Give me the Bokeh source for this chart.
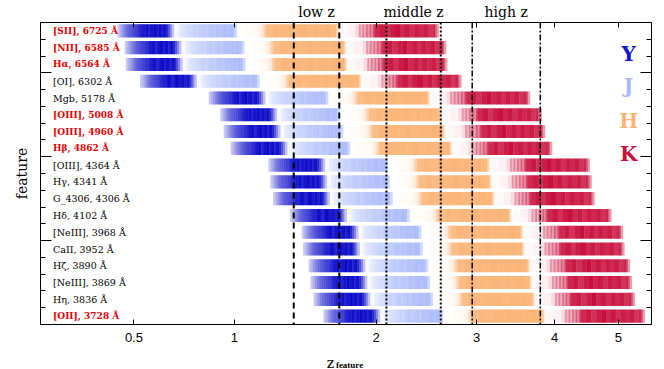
import math
from bokeh.plotting import figure
from bokeh.layouts import column
from bokeh.models import (Range1d, FixedTicker, LinearAxis, LogAxis, Span, Label,
                          CustomJSTickFormatter, ColumnDataSource)
from bokeh.embed import file_html
from bokeh.resources import INLINE
from bokeh.core.properties import value

# ---------------- data ----------------
feature_names = ["[SII]", "[NII]", "Hα", "[OI]", "Mgb", "[OIII]", "[OIII]", "Hβ",
                 "[OIII]", "Hγ", "G_4306", "Hδ", "[NeIII]", "CaII", "Hζ", "[NeIII]",
                 "Hη", "[OII]"]
feature_wave = [6725, 6585, 6564, 6302, 5178, 5008, 4960, 4862,
                4364, 4341, 4306, 4102, 3968, 3952, 3890, 3869, 3836, 3728]
feature_emission = [True, True, True, False, False, True, True, True,
                    False, False, False, False, False, False, False, False,
                    False, True]

filter_names = ["Y", "J", "H", "K"]
filter_rgb = [(10, 10, 200), (150, 170, 248), (250, 170, 100), (200, 16, 60)]
legend_colors = ["#1414c8", "#a8b8f8", "#f8b478", "#c8143c"]

# filter transmission profiles (micron edges, relative strength per segment)
Y_edges = [0.962, 0.968, 0.974, 0.980, 0.986, 0.992, 0.998, 1.004, 1.010, 1.018,
           1.026, 1.034, 1.042, 1.050, 1.058, 1.066, 1.074, 1.082, 1.090, 1.098,
           1.106, 1.112, 1.118, 1.124, 1.132]
Y_alpha = [0.22, 0.32, 0.42, 0.52, 0.6, 0.66, 0.7, 0.74, 0.78, 0.84, 0.9, 0.94,
           0.98, 0.9, 0.96, 1.0, 0.94, 0.98, 0.92, 0.97, 0.88, 0.7, 0.5, 0.25]
J_edges = [1.135, 1.145, 1.155, 1.165, 1.175, 1.185, 1.195, 1.205, 1.215, 1.225,
           1.235, 1.245, 1.255, 1.265, 1.275, 1.285, 1.295, 1.305, 1.315, 1.325,
           1.335, 1.345, 1.355]
J_alpha = [0.06, 0.22, 0.32, 0.38, 0.44, 0.46, 0.52, 0.5, 0.58, 0.62, 0.58, 0.64,
           0.68, 0.64, 0.72, 0.7, 0.74, 0.76, 0.72, 0.78, 0.74, 0.45]
H_edges = [1.380, 1.400, 1.420, 1.440, 1.452, 1.462, 1.472, 1.50, 1.53, 1.56,
           1.59, 1.62, 1.65, 1.68, 1.71, 1.74, 1.77, 1.79, 1.800, 1.808, 1.816]
H_alpha = [0.03, 0.05, 0.08, 0.14, 0.28, 0.55, 0.78, 0.85, 0.82, 0.86, 0.84, 0.88,
           0.83, 0.87, 0.85, 0.88, 0.84, 0.86, 0.55, 0.2]
K_edges = [1.82, 1.86, 1.90, 1.92, 1.93, 1.94, 1.95, 1.96, 1.97, 1.98, 1.99, 2.00,
           2.01, 2.04, 2.07, 2.10, 2.13, 2.16, 2.19, 2.22, 2.25, 2.28, 2.31, 2.34,
           2.37, 2.39, 2.40, 2.415]
K_alpha = [0.03, 0.06, 0.15, 0.45, 0.3, 0.55, 0.35, 0.6, 0.42, 0.68, 0.5, 0.78,
           0.9, 0.96, 0.86, 0.95, 1.0, 0.9, 0.96, 0.88, 0.95, 0.9, 0.95, 0.85,
           0.9, 0.7, 0.4]
filter_edges = [Y_edges, J_edges, H_edges, K_edges]
filter_alpha = [Y_alpha, J_alpha, H_alpha, K_alpha]

zone_names = ["low z", "middle z", "high z"]
zone_lo = [1.37, 2.09, 2.95]
zone_hi = [1.70, 2.61, 3.80]
zone_dash = ["6 4", "2 2", "6 2 2 2"]
zone_width = [2, 2, 1.5]

xtick_z = [0.5, 1, 2, 3, 4, 5]


def tint(rgb, a):
    # colour of the filter at strength a, laid over the white page
    r, g, b = (int(round(255 - a * (255 - c))) for c in rgb)
    return "#%02x%02x%02x" % (r, g, b)


# ---------------- build ----------------
n = len(feature_wave)
row_y = [n - 0.5 - i for i in range(n)]

q = dict(left=[], right=[], bottom=[], top=[], color=[])
for i, w in enumerate(feature_wave):
    yc = row_y[i]
    for edges, alphas, rgb in zip(filter_edges, filter_alpha, filter_rgb):
        m = len(alphas)
        for k in range(m):
            q["left"].append(edges[k] * 1e4 / w)
            # tiny overlap into the next segment hides anti-aliasing seams
            q["right"].append(edges[k + 1] * 1e4 / w * (1.0012 if k < m - 1 else 1.0))
            q["bottom"].append(yc - 0.39)
            q["top"].append(yc + 0.39)
            q["color"].append(tint(rgb, alphas[k]))

p = figure(width=664, height=347, x_axis_type="log",
           x_range=Range1d(1.148, 6.599), y_range=Range1d(0, 18),
           output_backend="svg", toolbar_location=None,
           min_border_left=40, min_border_right=13, min_border_top=22,
           min_border_bottom=23)
p.outline_line_color = "black"
p.outline_line_width = 1
p.xgrid.visible = False
p.ygrid.visible = False
p.background_fill_color = "white"
p.border_fill_color = "white"

p.quad(left="left", right="right", bottom="bottom", top="top",
       fill_color="color", fill_alpha=1.0, line_color=None,
       source=ColumnDataSource(q))

# vertical redshift-window lines
for lo, hi, dash, lw in zip(zone_lo, zone_hi, zone_dash, zone_width):
    for zz in (lo, hi):
        p.add_layout(Span(location=1 + zz, dimension="height", line_color="black",
                          line_width=lw, line_dash=dash))

# feature labels
labels = [f"{nm}, {w} Å" for nm, w in zip(feature_names, feature_wave)]
em_idx = [i for i in range(n) if feature_emission[i]]
ab_idx = [i for i in range(n) if not feature_emission[i]]
p.text(x=[1.19] * len(em_idx), y=[row_y[i] for i in em_idx],
       text=[labels[i] for i in em_idx], text_color="#e10000",
       text_font=value("DejaVu Serif"), text_font_size=value("9px"),
       text_font_style="bold", text_align="left", text_baseline="middle")
p.text(x=[1.19] * len(ab_idx), y=[row_y[i] for i in ab_idx],
       text=[labels[i] for i in ab_idx], text_color="black",
       text_font=value("DejaVu Serif"), text_font_size=value("9.5px"),
       text_align="left", text_baseline="middle")

# filter legend letters
for nm, col, yy in zip(filter_names, legend_colors, [16.15, 14.23, 12.14, 10.18]):
    p.add_layout(Label(x=6.18, y=yy, text=nm, text_color=col,
                       text_font="DejaVu Serif", text_font_style="bold",
                       text_font_size="20px", text_align="center",
                       text_baseline="alphabetic"))

# bottom x axis
xa = p.xaxis[0]
xa.ticker = FixedTicker(ticks=[1 + z for z in xtick_z], minor_ticks=[])
xa.formatter = CustomJSTickFormatter(code="return String(Math.round((tick - 1) * 10) / 10);")
xa.major_tick_in = 5
xa.major_tick_out = 0
xa.minor_tick_in = 0
xa.minor_tick_out = 0
xa.major_label_standoff = 8
xa.major_label_text_font = "Liberation Sans"
xa.major_label_text_font_size = "13px"
xa.major_label_text_color = "black"
xa.axis_line_color = "black"

# top axis: ticks at same z values, labels naming the redshift windows
zone_mid = [math.sqrt((1 + lo) * (1 + hi)) for lo, hi in zip(zone_lo, zone_hi)]
top = LogAxis(ticker=FixedTicker(ticks=zone_mid, minor_ticks=[1 + z for z in xtick_z]),
              formatter=CustomJSTickFormatter(args=dict(names=zone_names),
                                              code="return names[index];"),
              major_tick_in=0, major_tick_out=0, minor_tick_in=5, minor_tick_out=0,
              major_label_standoff=3, major_label_text_font="DejaVu Serif",
              major_label_text_font_size="14px", major_label_text_color="black",
              axis_line_color="black")
p.add_layout(top, "above")

# y axes
def yticker():
    return FixedTicker(ticks=[5, 10, 15], minor_ticks=list(range(1, 18)))

ya = p.yaxis[0]
ya.ticker = yticker()
ya.formatter = CustomJSTickFormatter(code="return '';")
ya.major_tick_in = 11
ya.major_tick_out = 0
ya.minor_tick_in = 5
ya.minor_tick_out = 0
ya.major_label_standoff = 0
ya.axis_label = "feature"
ya.axis_label_text_font = "DejaVu Serif"
ya.axis_label_text_font_style = "normal"
ya.axis_label_text_font_size = "14px"
ya.axis_label_text_color = "black"
ya.axis_label_standoff = 11

ra = LinearAxis(ticker=yticker(), formatter=CustomJSTickFormatter(code="return '';"),
                major_tick_in=11, major_tick_out=0,
                minor_tick_in=5, minor_tick_out=0, major_label_standoff=0)
p.add_layout(ra, "right")

# strip below for the x-axis title z_feature
s = figure(width=664, height=22, x_range=Range1d(0, 664), y_range=Range1d(0, 22),
           output_backend="svg", toolbar_location=None, min_border=0,
           x_axis_location=None, y_axis_location=None)
s.outline_line_color = None
s.xgrid.visible = False
s.ygrid.visible = False
s.text(x=[319], y=[7], text=["z"], text_align="right", text_baseline="alphabetic",
       text_font=value("DejaVu Serif"), text_font_size=value("14px"), text_color="black")
s.text(x=[321], y=[5], text=["feature"], text_align="left", text_baseline="alphabetic",
       text_font=value("Liberation Serif"), text_font_size=value("9px"),
       text_font_style="bold", text_color="black")

layout = column(p, s, spacing=0)
open("out.html", "w").write(file_html(layout, INLINE))
